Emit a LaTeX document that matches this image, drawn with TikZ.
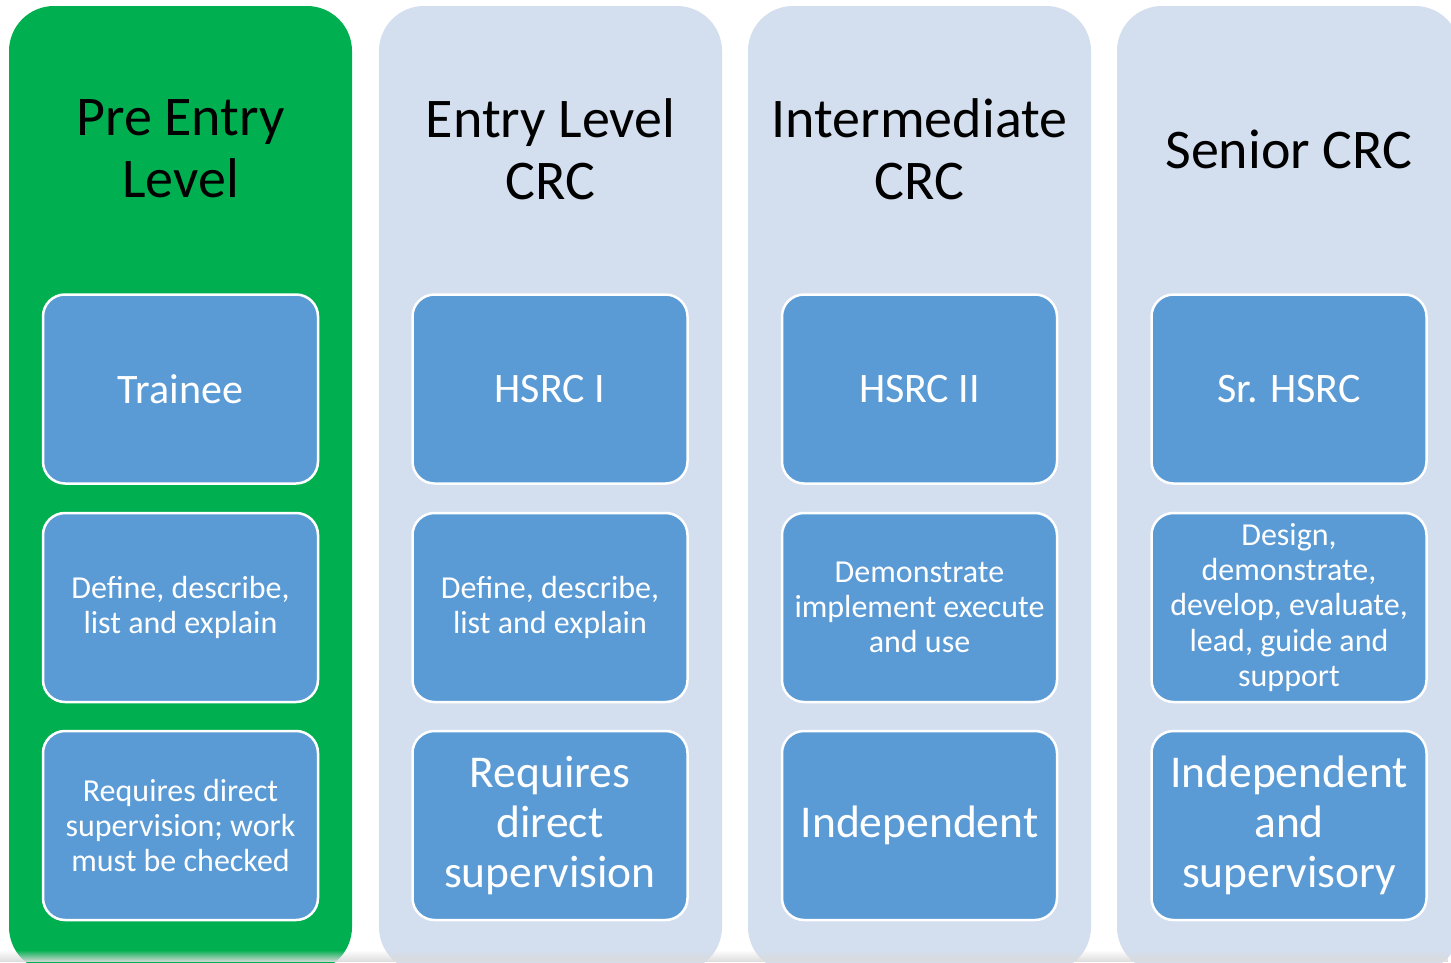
\documentclass[tikz,border=0pt]{standalone}
\usepackage{fontspec}
\setmainfont{Carlito}
\usetikzlibrary{fadings}
\definecolor{colgreen}{HTML}{00B050}
\definecolor{colpale}{HTML}{D3DEEF}
\definecolor{boxblue}{HTML}{5B9BD5}
\tikzset{
  colbg/.style={rounded corners=45pt},
  title/.style={text=black, align=center, font=\fontsize{56}{62}\selectfont},
  card/.style={draw=white, line width=2.5pt, fill=boxblue, rounded corners=22pt,
    minimum width=275pt, minimum height=189pt, text=white, align=center, inner sep=0pt},
  head/.style={font=\fontsize{42}{50}\selectfont},
  big/.style={font=\fontsize{45.5}{50}\selectfont},
  mid/.style={font=\fontsize{32}{35.3}\selectfont},
}
\begin{document}
\begin{tikzpicture}[x=1pt,y=-1pt]
\useasboundingbox[fill=white] (0,0) rectangle (1451,962);
\begin{scope}
\clip (0,0) rectangle (1451,962);
\fill[colgreen, colbg] (9,6) rectangle (352,972);
\fill[colpale, colbg] (379,6) rectangle (722,972);
\fill[colpale, colbg] (748,6) rectangle (1091,972);
\fill[colpale, colbg] (1117,6) rectangle (1460,972);
\fill[black!14, path fading=north] (0,950) rectangle (1451,962);
\end{scope}
% titles
\node[title] (t1) at (180.5,149) {Pre Entry\\Level};
\node[title] (t2) at (550.5,149) {Entry Level\\CRC};
\node[title] (t3) at (919.5,149) {Intermediate\\CRC};
\node[title] (t4) at (1289,149) {Senior CRC};
% row 1
\node[card, head] (a1) at (180.5,389) {Trainee};
\node[card, head] (a2) at (550,389) {HSRC I};
\node[card, head] (a3) at (919.5,389) {HSRC II};
\node[card, head] (a4) at (1289,389) {Sr. HSRC};
% row 2
\node[card, mid] (b1) at (180.5,607.5) {Define, describe,\\list and explain};
\node[card, mid] (b2) at (550,607.5) {Define, describe,\\list and explain};
\node[card, mid] (b3) at (919.5,607.5) {Demonstrate\\implement execute\\and use};
\node[card, mid] (b4) at (1289,607.5) {Design,\\demonstrate,\\develop, evaluate,\\lead, guide and\\support};
% row 3
\node[card, mid] (c1) at (180.5,825.5) {Requires direct\\supervision; work\\must be checked};
\node[card, big] (c2) at (550,825.5) {Requires\\direct\\supervision};
\node[card, big] (c3) at (919.5,825.5) {Independent};
\node[card, big] (c4) at (1289,825.5) {Independent\\and\\supervisory};
\end{tikzpicture}
\end{document}
